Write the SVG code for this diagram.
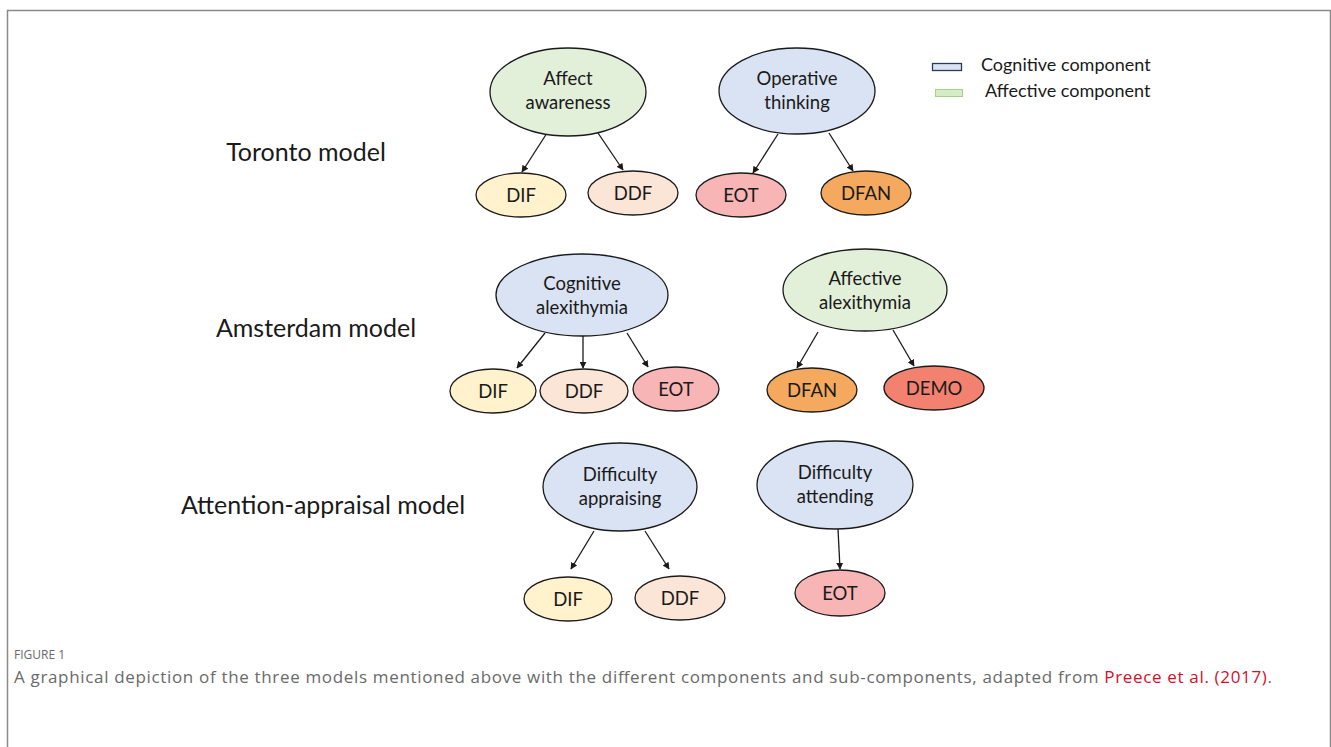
<svg xmlns="http://www.w3.org/2000/svg" width="1331" height="747" viewBox="0 0 1331 747">
<style>
.n{stroke:#1a1a1a;stroke-width:1.3}
.cog{fill:#dae3f3}
.aff{fill:#e2efd9}
.dif{fill:#fff2cc}
.ddf{fill:#fbe5d6}
.eot{fill:#f7b5b5}
.dfan{fill:#f4a95e}
.demo{fill:#f2826f}
.t{font-family:Lato,"Open Sans","Liberation Sans",sans-serif;fill:#1a1a1a;text-anchor:middle}
.nt{font-size:18.5px}
.mt{font-size:25px}
.lt{font-size:18px;text-anchor:start}
.c{stroke:#1a1a1a;stroke-width:1.3;fill:none;marker-end:url(#ah)}
.cap{font-family:"Open Sans","Liberation Sans",sans-serif;fill:#6a6a6a}
</style>
<defs>
<marker id="ah" viewBox="0 0 10 10" refX="9" refY="5" markerWidth="7" markerHeight="7" orient="auto" markerUnits="userSpaceOnUse">
<path d="M0,0 L10,5 L0,10 z" fill="#1a1a1a"/>
</marker>
</defs>
<rect width="1331" height="747" fill="#fff"/>
<path d="M7.5,747 V10.5 H1330.5 V747" fill="none" stroke="#8a8a8a" stroke-width="1.5"/>

<g id="labels">
<text class="t mt" x="306" y="161">Toronto model</text>
<text class="t mt" x="316" y="337">Amsterdam model</text>
<text class="t mt" x="323" y="514">Attention-appraisal model</text>
</g>

<g id="legend">
<rect x="932.5" y="63.5" width="29" height="7" fill="#dae3f3" stroke="#2f3a55" stroke-width="1.3"/>
<rect x="935.5" y="89.5" width="27" height="7" fill="#d5ecc6" stroke="#a8d08d" stroke-width="1"/>
<text class="t lt" x="981" y="71">Cognitive component</text>
<text class="t lt" x="985" y="97">Affective component</text>
</g>

<g id="connectors">
<line class="c" x1="547" y1="133" x2="522" y2="172"/>
<line class="c" x1="598" y1="133" x2="623" y2="170"/>
<line class="c" x1="778" y1="134" x2="753" y2="173"/>
<line class="c" x1="829" y1="133" x2="853" y2="171"/>
<line class="c" x1="545" y1="333" x2="517" y2="368"/>
<line class="c" x1="583" y1="336" x2="583" y2="368"/>
<line class="c" x1="627" y1="333" x2="648" y2="367"/>
<line class="c" x1="818" y1="332" x2="797" y2="368"/>
<line class="c" x1="893" y1="330" x2="914" y2="366"/>
<line class="c" x1="594" y1="531" x2="571" y2="569"/>
<line class="c" x1="645" y1="531" x2="669" y2="569"/>
<line class="c" x1="838" y1="529" x2="840" y2="569"/>
</g>

<g id="affect-awareness"><ellipse class="n aff" cx="568" cy="92" rx="78" ry="44"/><text class="t nt" x="568" y="85">Affect</text><text class="t nt" x="568" y="109">awareness</text></g>
<g id="operative-thinking"><ellipse class="n cog" cx="797" cy="91" rx="78" ry="43"/><text class="t nt" x="797" y="85">Operative</text><text class="t nt" x="797" y="109">thinking</text></g>
<g id="t-dif"><ellipse class="n dif" cx="521" cy="195" rx="45" ry="22"/><text class="t nt" x="521" y="202">DIF</text></g>
<g id="t-ddf"><ellipse class="n ddf" cx="633" cy="193" rx="45" ry="22"/><text class="t nt" x="633" y="200">DDF</text></g>
<g id="t-eot"><ellipse class="n eot" cx="741" cy="195" rx="45" ry="22"/><text class="t nt" x="741" y="202">EOT</text></g>
<g id="t-dfan"><ellipse class="n dfan" cx="866" cy="193" rx="45" ry="22"/><text class="t nt" x="866" y="200">DFAN</text></g>

<g id="cognitive-alexithymia"><ellipse class="n cog" cx="582" cy="295" rx="86" ry="41"/><text class="t nt" x="582" y="290">Cognitive</text><text class="t nt" x="582" y="314">alexithymia</text></g>
<g id="affective-alexithymia"><ellipse class="n aff" cx="865" cy="290" rx="82" ry="41"/><text class="t nt" x="865" y="285">Affective</text><text class="t nt" x="865" y="309">alexithymia</text></g>
<g id="a-dif"><ellipse class="n dif" cx="493" cy="391" rx="43" ry="22"/><text class="t nt" x="493" y="398">DIF</text></g>
<g id="a-ddf"><ellipse class="n ddf" cx="584" cy="391" rx="44" ry="22"/><text class="t nt" x="584" y="398">DDF</text></g>
<g id="a-eot"><ellipse class="n eot" cx="676" cy="389" rx="43" ry="22"/><text class="t nt" x="676" y="396">EOT</text></g>
<g id="a-dfan"><ellipse class="n dfan" cx="812" cy="390" rx="45" ry="22"/><text class="t nt" x="812" y="397">DFAN</text></g>
<g id="a-demo"><ellipse class="n demo" cx="934" cy="388" rx="50" ry="22"/><text class="t nt" x="934" y="395">DEMO</text></g>

<g id="difficulty-appraising"><ellipse class="n cog" cx="620" cy="487" rx="77" ry="44"/><text class="t nt" x="620" y="481">Difficulty</text><text class="t nt" x="620" y="505">appraising</text></g>
<g id="difficulty-attending"><ellipse class="n cog" cx="835" cy="485" rx="78" ry="44"/><text class="t nt" x="835" y="479">Difficulty</text><text class="t nt" x="835" y="503">attending</text></g>
<g id="p-dif"><ellipse class="n dif" cx="568" cy="599" rx="44" ry="22"/><text class="t nt" x="568" y="606">DIF</text></g>
<g id="p-ddf"><ellipse class="n ddf" cx="680" cy="598" rx="45" ry="22"/><text class="t nt" x="680" y="605">DDF</text></g>
<g id="p-eot"><ellipse class="n eot" cx="840" cy="593" rx="45" ry="23"/><text class="t nt" x="840" y="600">EOT</text></g>

<g id="caption">
<text class="cap" x="14" y="659" font-size="12">FIGURE 1</text>
<text class="cap" x="14" y="683" font-size="17" textLength="1258" lengthAdjust="spacing">A graphical depiction of the three models mentioned above with the different components and sub-components, adapted from <tspan fill="#d0112b">Preece et al. (2017)</tspan>.</text>
</g>
</svg>
